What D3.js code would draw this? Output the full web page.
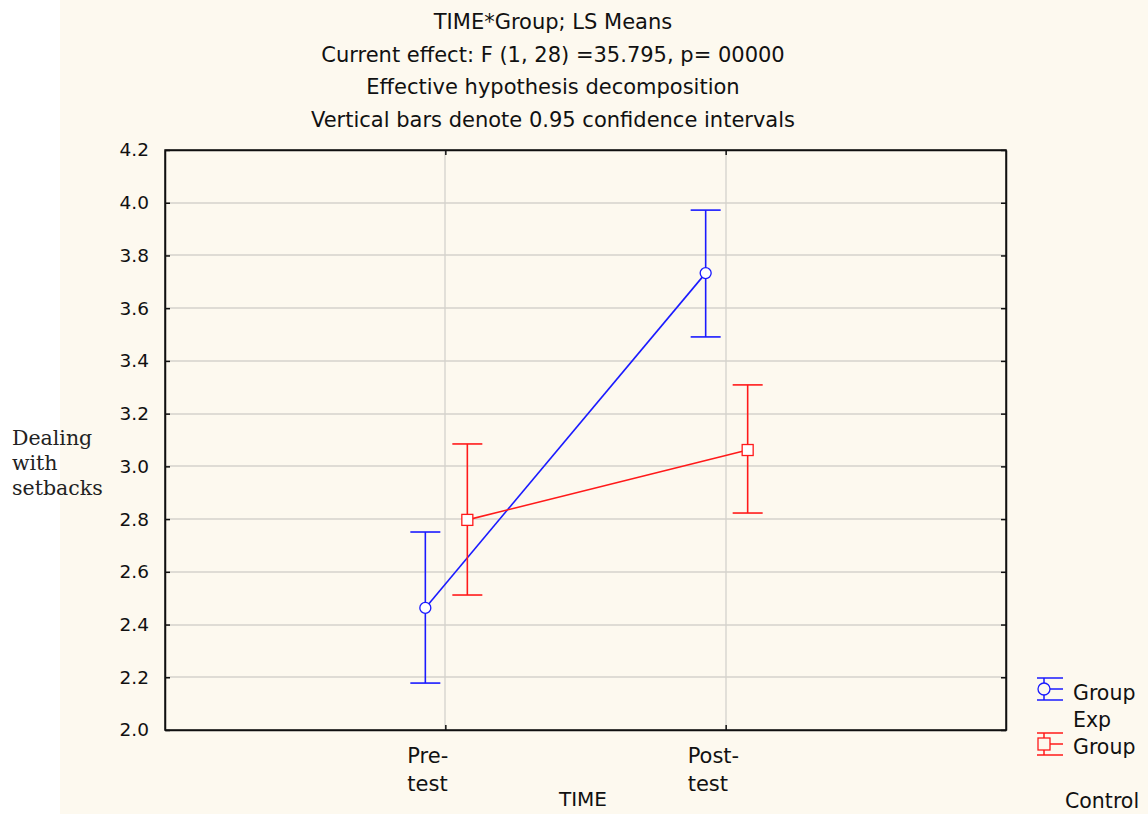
<!DOCTYPE html>
<html>
<head>
<meta charset="utf-8">
<script src="https://cdn.jsdelivr.net/npm/d3@7"></script>
<style>
  html, body { margin: 0; padding: 0; background: #ffffff; }
  svg { display: block; }
</style>
</head>
<body>
<svg id="chart" width="1148" height="814"></svg>
<script>
// LS means of "Dealing with setbacks" by TIME and Group, with 95% CIs
const timeLabels = [["Pre-", "test"], ["Post-", "test"]];
const groupNames = [["Group", "Exp"], ["Group", "Control"]];
const groupColors = ["#1a1aff", "#ff1a1a"];
const expMeans = [2.463, 3.733];
const expLower = [2.178, 3.491];
const expUpper = [2.751, 3.972];
const controlMeans = [2.797, 3.062];
const controlLower = [2.512, 2.823];
const controlUpper = [3.085, 3.309];
const yTicks = [2.0, 2.2, 2.4, 2.6, 2.8, 3.0, 3.2, 3.4, 3.6, 3.8, 4.0, 4.2];
const titleLines = [
  "TIME*Group; LS Means",
  "Current effect: F (1, 28) =35.795, p= 00000",
  "Effective hypothesis decomposition",
  "Vertical bars denote 0.95 confidence intervals"
];

const series = [
  { means: expMeans, lower: expLower, upper: expUpper, color: groupColors[0], shape: "circle", offset: -20 },
  { means: controlMeans, lower: controlLower, upper: controlUpper, color: groupColors[1], shape: "square", offset: 22 }
];

const svg = d3.select("#chart");
const W = 1148, H = 814;
const plot = { left: 165, right: 1006, top: 150, bottom: 730 };
const sansFont = "'DejaVu Sans', Verdana, sans-serif";
const serifFont = "'DejaVu Serif', 'Liberation Serif', serif";
const bg = "#fdf9ef";

// page background
svg.append("rect").attr("x", 60).attr("y", 0).attr("width", W - 60).attr("height", H).attr("fill", bg);

const x = d3.scaleLinear().domain([0, 3]).range([plot.left, plot.right]);
const y = d3.scaleLinear().domain([2.0, 4.2]).range([plot.bottom, plot.top]);

// grid
const grid = svg.append("g").attr("stroke", "#d4d2cc").attr("stroke-width", 1.3);
yTicks.slice(1, -1).forEach(t => {
  grid.append("line").attr("x1", plot.left).attr("x2", plot.right)
    .attr("y1", Math.round(y(t))).attr("y2", Math.round(y(t)));
});
[1, 2].forEach(c => {
  grid.append("line").attr("y1", plot.top).attr("y2", plot.bottom)
    .attr("x1", Math.round(x(c))).attr("x2", Math.round(x(c)));
});

// axes (ticks point inward)
const yAxis = d3.axisLeft(y).tickValues(yTicks).tickFormat(d3.format(".1f")).tickSizeInner(-5).tickSizeOuter(0).tickPadding(16);
const gy = svg.append("g").attr("transform", `translate(${plot.left},0)`).call(yAxis);
gy.selectAll("text").attr("font-family", sansFont).attr("font-size", 18.5).attr("fill", "#111");
const yAxisR = d3.axisRight(y).tickValues(yTicks).tickFormat("").tickSizeInner(-5).tickSizeOuter(0);
svg.append("g").attr("transform", `translate(${plot.right},0)`).call(yAxisR);

const xAxis = d3.axisBottom(x).tickValues([1, 2]).tickFormat("").tickSizeInner(-5).tickSizeOuter(0);
svg.append("g").attr("transform", `translate(0,${plot.bottom})`).call(xAxis);
const xAxisT = d3.axisTop(x).tickValues([1, 2]).tickFormat("").tickSizeInner(-5).tickSizeOuter(0);
svg.append("g").attr("transform", `translate(0,${plot.top})`).call(xAxisT);

svg.selectAll(".domain").attr("stroke", "#111").attr("stroke-width", 1.5);
svg.selectAll(".tick line").attr("stroke", "#111").attr("stroke-width", 1.5);

// frame
svg.append("rect").attr("x", plot.left).attr("y", plot.top)
  .attr("width", plot.right - plot.left).attr("height", plot.bottom - plot.top)
  .attr("fill", "none").attr("stroke", "#111").attr("stroke-width", 1.5);

// x tick labels
timeLabels.forEach((lbl, i) => {
  const t = svg.append("text").attr("x", x(i + 1) - 38).attr("y", 763)
    .attr("font-family", sansFont).attr("font-size", 21).attr("fill", "#111");
  lbl.forEach((line, j) => t.append("tspan").attr("x", x(i + 1) - 38).attr("dy", j === 0 ? 0 : 28).text(line));
});

// axis titles
svg.append("text").attr("x", 583).attr("y", 806).attr("text-anchor", "middle")
  .attr("font-family", sansFont).attr("font-size", 20).attr("fill", "#111").text("TIME");

const yl = svg.append("text").attr("x", 12).attr("y", 445)
  .attr("font-family", serifFont).attr("font-size", 20.5).attr("fill", "#222");
["Dealing", "with", "setbacks"].forEach((line, j) =>
  yl.append("tspan").attr("x", 12).attr("dy", j === 0 ? 0 : 25).text(line));

// title
titleLines.forEach((line, i) => {
  svg.append("text").attr("x", 553).attr("y", 29 + i * 32.5).attr("text-anchor", "middle")
    .attr("font-family", sansFont).attr("font-size", 21).attr("fill", "#111").text(line);
});

// series
const capHalf = 15;
series.forEach(s => {
  const g = svg.append("g");
  const px = i => x(i + 1) + s.offset;
  // error bars
  s.means.forEach((m, i) => {
    g.append("line").attr("x1", px(i)).attr("x2", px(i)).attr("y1", y(s.lower[i])).attr("y2", y(s.upper[i]))
      .attr("stroke", s.color).attr("stroke-width", 1.6);
    [s.lower[i], s.upper[i]].forEach(v => {
      g.append("line").attr("x1", px(i) - capHalf).attr("x2", px(i) + capHalf).attr("y1", y(v)).attr("y2", y(v))
        .attr("stroke", s.color).attr("stroke-width", 1.6);
    });
  });
  // connecting line
  g.append("path").datum(s.means)
    .attr("d", d3.line().x((d, i) => px(i)).y(d => y(d)))
    .attr("fill", "none").attr("stroke", s.color).attr("stroke-width", 1.6);
  // markers
  s.means.forEach((m, i) => {
    if (s.shape === "circle") {
      g.append("circle").attr("cx", px(i)).attr("cy", y(m)).attr("r", 5.5)
        .attr("fill", "#ffffff").attr("stroke", s.color).attr("stroke-width", 1.3);
    } else {
      g.append("rect").attr("x", px(i) - 5.5).attr("y", y(m) - 5.5).attr("width", 11).attr("height", 11)
        .attr("fill", "#ffffff").attr("stroke", s.color).attr("stroke-width", 1.3);
    }
  });
});

// legend
const legendY = [689, 744];
series.forEach((s, k) => {
  const g = svg.append("g").attr("transform", `translate(1044,${legendY[k]})`);
  g.append("line").attr("x1", 0).attr("x2", 0).attr("y1", -11).attr("y2", 11).attr("stroke", s.color).attr("stroke-width", 1.5);
  g.append("line").attr("x1", -7).attr("x2", 19).attr("y1", -11).attr("y2", -11).attr("stroke", s.color).attr("stroke-width", 1.5);
  g.append("line").attr("x1", -7).attr("x2", 19).attr("y1", 11).attr("y2", 11).attr("stroke", s.color).attr("stroke-width", 1.5);
  g.append("line").attr("x1", 6).attr("x2", 19).attr("y1", 0).attr("y2", 0).attr("stroke", s.color).attr("stroke-width", 1.5);
  if (s.shape === "circle") {
    g.append("circle").attr("cx", 0).attr("cy", 0).attr("r", 6).attr("fill", bg).attr("stroke", s.color).attr("stroke-width", 1.3);
  } else {
    g.append("rect").attr("x", -6).attr("y", -6).attr("width", 12).attr("height", 12).attr("fill", bg).attr("stroke", s.color).attr("stroke-width", 1.3);
  }
});
const legendText = (tx, ty, str) => svg.append("text").attr("x", tx).attr("y", ty)
  .attr("font-family", sansFont).attr("font-size", 20.5).attr("fill", "#111").text(str);
legendText(1073, 700, groupNames[0][0]);
legendText(1073, 727, groupNames[0][1]);
legendText(1073, 754, groupNames[1][0]);
legendText(1065, 808, groupNames[1][1]);
</script>
</body>
</html>
